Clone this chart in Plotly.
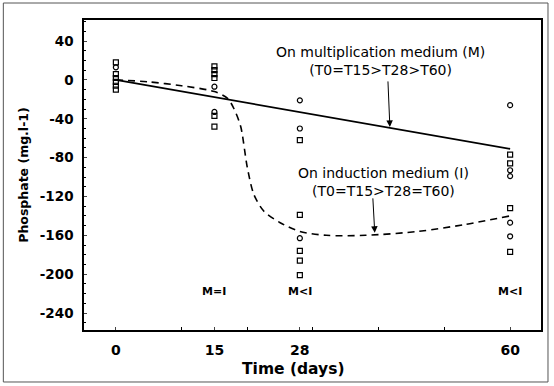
import plotly.graph_objects as go

# ---- data ----
sq_x = [0, 0, 0, 0, 0, 0, 15, 15, 15, 15, 15, 15, 28, 28, 28, 28, 28, 60, 60, 60, 60]
sq_y = [18, 6, 2, -2, -6, -10, 14, 10, 6, 2, -37, -48, -62, -139, -176, -186, -201, -77, -86, -132, -177]
ci_x = [0, 15, 15, 28, 28, 28, 60, 60, 60, 60, 60]
ci_y = [13, -7, -33, -21, -50, -163, -26, -93, -99, -147, -161]

mult_x = [0, 60]
mult_y = [0, -71]

ind_x = [0, 5, 10, 15, 17, 18, 19, 20, 21, 22.5, 25, 28, 32, 38, 46, 53, 60]
ind_y = [0, -2, -6, -12, -19, -30, -48, -90, -118, -135, -147, -156, -160, -160, -156, -149, -140]

cmp_x = [15, 28, 60]
cmp_text = ["M=I", "M<I", "M<I"]

x_tickvals = [0, 15, 28, 60]
x_ticktext = ["0", "15", "28", "60"]
y_tickvals = [40, 0, -40, -80, -120, -160, -200, -240]
y_ticktext = ["40", "0", "-40", "-80", "-120", "-160", "-200", "-240"]

FONT = "DejaVu Sans"

fig = go.Figure()
fig.add_trace(go.Scatter(x=mult_x, y=mult_y, mode="lines",
                         line=dict(color="black", width=1.8), hoverinfo="skip"))
fig.add_trace(go.Scatter(x=ind_x, y=ind_y, mode="lines",
                         line=dict(color="black", width=1.6, dash="7px,5px", shape="spline", smoothing=0.8),
                         hoverinfo="skip"))
fig.add_trace(go.Scatter(x=sq_x, y=sq_y, mode="markers",
                         marker=dict(symbol="square-open", size=5, color="black", line=dict(width=1.2))))
fig.add_trace(go.Scatter(x=ci_x, y=ci_y, mode="markers",
                         marker=dict(symbol="circle-open", size=5, color="black", line=dict(width=1.2))))

for xv, t in zip(cmp_x, cmp_text):
    fig.add_annotation(x=xv, y=-218, text="<b>%s</b>" % t, showarrow=False,
                       font=dict(family=FONT, size=11, color="black"))

fig.add_annotation(x=40.2, y=19.5, text="On multiplication medium (M)<br>(T0=T15>T28>T60)",
                   showarrow=False, font=dict(family=FONT, size=14, color="black"))
fig.add_annotation(x=40.7, y=-105.5, text="On induction medium (I)<br>(T0=T15>T28=T60)",
                   showarrow=False, font=dict(family=FONT, size=14, color="black"))

fig.add_annotation(x=41.7, y=-48.4, ax=41.4, ay=0, axref="x", ayref="y", text="",
                   showarrow=True, arrowhead=2, arrowsize=1.3, arrowwidth=1, arrowcolor="black")
fig.add_annotation(x=39.4, y=-157.4, ax=39.1, ay=-120.4, axref="x", ayref="y", text="",
                   showarrow=True, arrowhead=2, arrowsize=1.3, arrowwidth=1, arrowcolor="black")

# x-axis title (placed slightly left of centre, as in the reference)
fig.add_annotation(xref="paper", yref="paper", x=0.4575, y=-0.125, yanchor="middle",
                   text="<b>Time (days)</b>", showarrow=False,
                   font=dict(family=FONT, size=15.5, color="black"))

# outer frame
fig.add_shape(type="rect", xref="paper", yref="paper", x0=-0.1765, x1=1.0153, y0=-0.1677, y1=1.0548,
              line=dict(color="#555555", width=1))

fig.update_layout(
    width=554, height=386,
    margin=dict(l=84, r=11, t=20, b=56),
    paper_bgcolor="white", plot_bgcolor="white",
    showlegend=False,
    font=dict(family=FONT, color="black"),
)
fig.update_xaxes(range=[-4.85, 64.7], showgrid=False, zeroline=False,
                 showline=True, linecolor="black", linewidth=1.5, mirror=True,
                 tickvals=x_tickvals, ticktext=x_ticktext, ticks="inside", ticklen=3,
                 tickfont=dict(family=FONT, size=14, color="black", weight="bold"),
                 ticklabelstandoff=6,
                 minor=dict(dtick=10, tick0=0, ticks="inside", ticklen=3, tickcolor="black"))
fig.update_yaxes(range=[-257.5, 61.7], showgrid=False, zeroline=False,
                 showline=True, linecolor="black", linewidth=1.5, mirror=True,
                 tickvals=y_tickvals, ticktext=y_ticktext, ticks="inside", ticklen=3,
                 tickfont=dict(family=FONT, size=13.5, color="black", weight="bold"),
                 ticklabelstandoff=6,
                 minor=dict(dtick=10, tick0=0, ticks="inside", ticklen=2, tickcolor="black"),
                 title=dict(text="<b>Phosphate (mg.l-1)</b>", font=dict(family=FONT, size=12.5, color="black"),
                            standoff=8))

fig.write_html("out.html")
